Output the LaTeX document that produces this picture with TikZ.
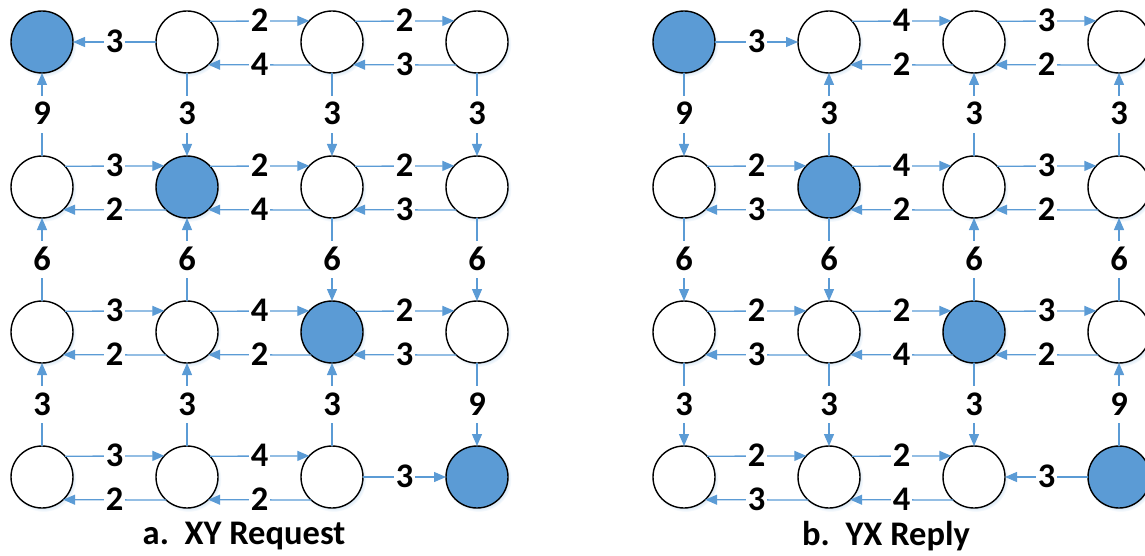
\documentclass[tikz,border=0pt]{standalone}
\usepackage{fontspec}
\setmainfont{Carlito}
\usetikzlibrary{arrows.meta,shadows}

\definecolor{linkblue}{HTML}{5B9BD5}
\definecolor{haloblue}{HTML}{BDD7EE}

\tikzset{
  router/.style={circle, draw=black, line width=1.4pt, fill=white,
    minimum size=62pt, inner sep=0pt, outer sep=0pt,
    circular drop shadow={shadow xshift=1.5pt, shadow yshift=-2pt,
      shadow scale=1.06, fill=haloblue, opacity=.6}},
  hot/.style={router, fill=linkblue},
  link/.style={draw=linkblue, line width=1.3pt,
    -{Triangle[length=12pt,width=10pt]}},
  cost/.style={fill=white, font=\fontsize{34.5}{38}\selectfont\bfseries,
    text height=21pt, text depth=0pt, inner xsep=1.5pt, inner ysep=8pt},
  caption/.style={font=\fontsize{34.5}{38}\selectfont\bfseries}
}

% upper lane (left to right), lower lane (right to left), single lanes
\newcommand\fwd[3]{\draw[link] (#1.42.6) -- node[cost]{#3} (#2.137.4);}
\newcommand\bwd[3]{\draw[link] (#2.-132.1) -- node[cost]{#3} (#1.-47.9);}
\newcommand\rgt[3]{\draw[link] (#1.east) -- node[cost]{#3} (#2.west);}
\newcommand\lft[3]{\draw[link] (#2.west) -- node[cost]{#3} (#1.east);}
\newcommand\dwn[3]{\draw[link] (#1.south) -- node[cost]{#3} (#2.north);}
\newcommand\upw[3]{\draw[link] (#2.north) -- node[cost]{#3} (#1.south);}

\begin{document}
\begin{tikzpicture}[x=1pt,y=-1pt]
\useasboundingbox (0,0) rectangle (1145,556);

% ---- a. XY Request mesh ----
\foreach \r in {1,...,4}{
  \foreach \c in {1,...,4}{
    \pgfmathsetmacro\px{42+145*(\c-1)}
    \pgfmathsetmacro\py{42+145*(\r-1)}
    \ifnum\r=\c
      \node[hot] (a\r\c) at (\px,\py) {};
    \else
      \node[router] (a\r\c) at (\px,\py) {};
    \fi
  }
}
% row 1
\lft{a11}{a12}{3}
\fwd{a12}{a13}{2} \bwd{a12}{a13}{4}
\fwd{a13}{a14}{2} \bwd{a13}{a14}{3}
% row 2
\fwd{a21}{a22}{3} \bwd{a21}{a22}{2}
\fwd{a22}{a23}{2} \bwd{a22}{a23}{4}
\fwd{a23}{a24}{2} \bwd{a23}{a24}{3}
% row 3
\fwd{a31}{a32}{3} \bwd{a31}{a32}{2}
\fwd{a32}{a33}{4} \bwd{a32}{a33}{2}
\fwd{a33}{a34}{2} \bwd{a33}{a34}{3}
% row 4
\fwd{a41}{a42}{3} \bwd{a41}{a42}{2}
\fwd{a42}{a43}{4} \bwd{a42}{a43}{2}
\rgt{a43}{a44}{3}
% columns
\upw{a11}{a21}{9} \dwn{a12}{a22}{3} \dwn{a13}{a23}{3} \dwn{a14}{a24}{3}
\upw{a21}{a31}{6} \upw{a22}{a32}{6} \dwn{a23}{a33}{6} \dwn{a24}{a34}{6}
\upw{a31}{a41}{3} \upw{a32}{a42}{3} \upw{a33}{a43}{3} \dwn{a34}{a44}{9}

\node[caption] (capa) at (244,536) {a.\ \ XY Request};

% ---- b. YX Reply mesh ----
\foreach \r in {1,...,4}{
  \foreach \c in {1,...,4}{
    \pgfmathsetmacro\px{684+145*(\c-1)}
    \pgfmathsetmacro\py{42+145*(\r-1)}
    \ifnum\r=\c
      \node[hot] (b\r\c) at (\px,\py) {};
    \else
      \node[router] (b\r\c) at (\px,\py) {};
    \fi
  }
}
% row 1
\rgt{b11}{b12}{3}
\fwd{b12}{b13}{4} \bwd{b12}{b13}{2}
\fwd{b13}{b14}{3} \bwd{b13}{b14}{2}
% row 2
\fwd{b21}{b22}{2} \bwd{b21}{b22}{3}
\fwd{b22}{b23}{4} \bwd{b22}{b23}{2}
\fwd{b23}{b24}{3} \bwd{b23}{b24}{2}
% row 3
\fwd{b31}{b32}{2} \bwd{b31}{b32}{3}
\fwd{b32}{b33}{2} \bwd{b32}{b33}{4}
\fwd{b33}{b34}{3} \bwd{b33}{b34}{2}
% row 4
\fwd{b41}{b42}{2} \bwd{b41}{b42}{3}
\fwd{b42}{b43}{2} \bwd{b42}{b43}{4}
\lft{b43}{b44}{3}
% columns
\dwn{b11}{b21}{9} \upw{b12}{b22}{3} \upw{b13}{b23}{3} \upw{b14}{b24}{3}
\dwn{b21}{b31}{6} \dwn{b22}{b32}{6} \upw{b23}{b33}{6} \upw{b24}{b34}{6}
\dwn{b31}{b41}{3} \dwn{b32}{b42}{3} \dwn{b33}{b43}{3} \upw{b34}{b44}{9}

\node[caption] (capb) at (886,536) {b.\ \ YX Reply};
\end{tikzpicture}
\end{document}
